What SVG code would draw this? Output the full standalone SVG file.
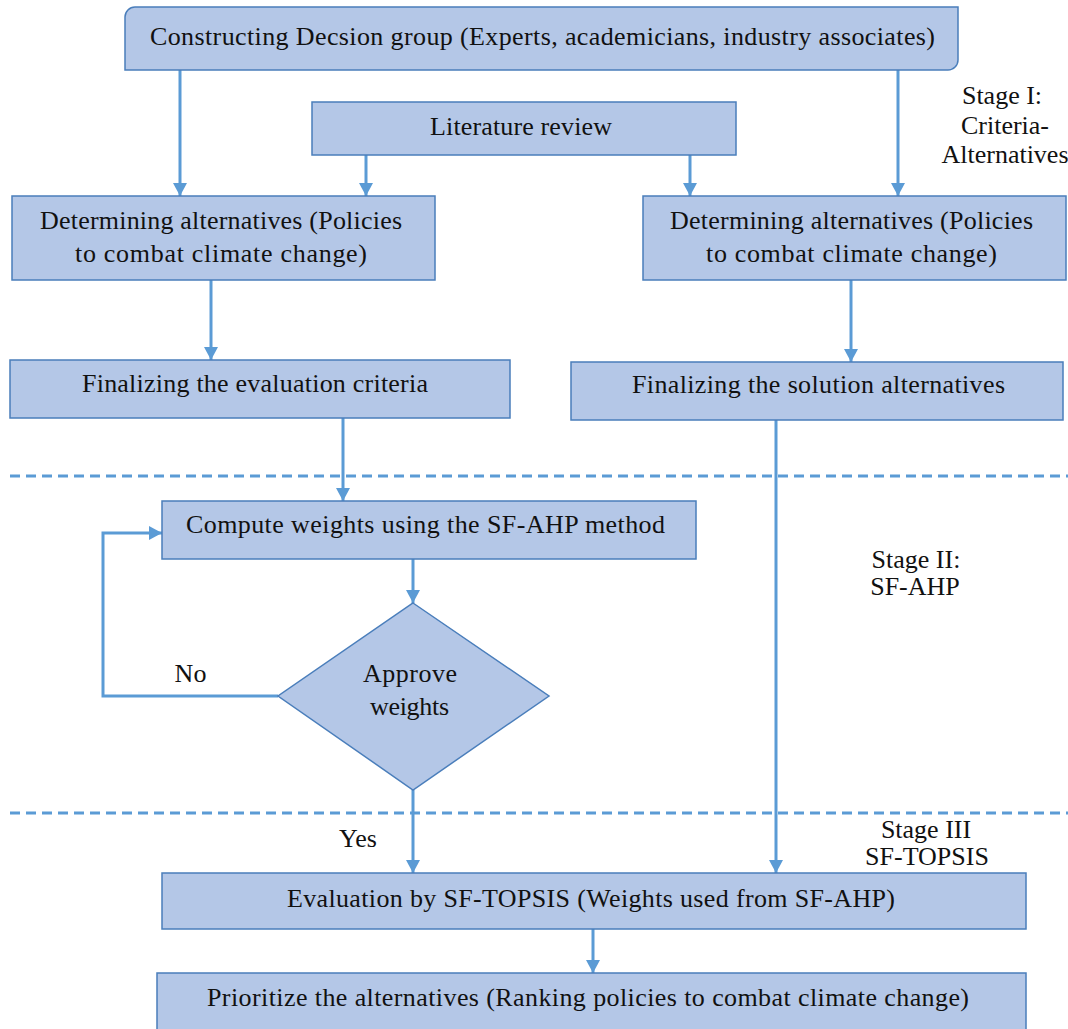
<svg xmlns="http://www.w3.org/2000/svg" width="1068" height="1029" viewBox="0 0 1068 1029">
<style>
.box{fill:#B4C7E7;stroke:#4A7EBB;stroke-width:1.5}
.t{font-family:'Liberation Serif','Times New Roman',Times,'DejaVu Serif',serif;font-size:26px;fill:#111111;text-anchor:middle}
.c{fill:none;stroke:#5B9BD5;stroke-width:3}
.d{fill:none;stroke:#5B9BD5;stroke-width:3;stroke-dasharray:10 6}
</style>
<defs>
<marker id="ah" markerUnits="userSpaceOnUse" markerWidth="14" markerHeight="14" refX="13" refY="7" orient="auto">
<path d="M0,0 L13,7 L0,14 z" fill="#5B9BD5"/>
</marker>
</defs>
<rect width="1068" height="1029" fill="#ffffff"/>

<g id="stage-dividers">
<line class="d" x1="10" y1="476" x2="1068" y2="476"/>
<line class="d" x1="10" y1="813" x2="1068" y2="813"/>
</g>

<g id="connectors">
<line class="c" x1="180" y1="70" x2="180" y2="196" marker-end="url(#ah)"/>
<line class="c" x1="898" y1="70" x2="898" y2="196" marker-end="url(#ah)"/>
<line class="c" x1="366" y1="155" x2="366" y2="196" marker-end="url(#ah)"/>
<line class="c" x1="690" y1="155" x2="690" y2="196" marker-end="url(#ah)"/>
<line class="c" x1="211" y1="280" x2="211" y2="360" marker-end="url(#ah)"/>
<line class="c" x1="851" y1="280" x2="851" y2="362" marker-end="url(#ah)"/>
<line class="c" x1="343" y1="418" x2="343" y2="501" marker-end="url(#ah)"/>
<line class="c" x1="413" y1="559" x2="413" y2="603" marker-end="url(#ah)"/>
<polyline class="c" points="278,696 103,696 103,533 162,533" marker-end="url(#ah)"/>
<line class="c" x1="413" y1="790" x2="413" y2="873" marker-end="url(#ah)"/>
<line class="c" x1="776" y1="420" x2="776" y2="873" marker-end="url(#ah)"/>
<line class="c" x1="593" y1="929" x2="593" y2="973" marker-end="url(#ah)"/>
</g>

<g id="decision-group">
<path class="box" d="M135,7 H958 V60 A10,10 0 0 1 948,70 H125 V17 A10,10 0 0 1 135,7 Z"/>
<text class="t" x="542.5" y="45" textLength="785" lengthAdjust="spacing">Constructing Decsion group (Experts, academicians, industry associates)</text>
</g>

<g id="literature-review">
<rect class="box" x="312" y="102" width="424" height="53"/>
<text class="t" x="521" y="135" textLength="182" lengthAdjust="spacing">Literature review</text>
</g>

<g id="determining-left">
<rect class="box" x="12" y="196" width="423" height="84"/>
<text class="t" x="221" y="229" textLength="362" lengthAdjust="spacing">Determining alternatives (Policies</text>
<text class="t" x="221" y="262" textLength="292" lengthAdjust="spacing">to combat climate change)</text>
</g>

<g id="determining-right">
<rect class="box" x="643" y="196" width="423" height="84"/>
<text class="t" x="851.5" y="229" textLength="363" lengthAdjust="spacing">Determining alternatives (Policies</text>
<text class="t" x="851.5" y="262" textLength="291" lengthAdjust="spacing">to combat climate change)</text>
</g>

<g id="finalizing-criteria">
<rect class="box" x="10" y="360" width="500" height="58"/>
<text class="t" x="255" y="392" textLength="346" lengthAdjust="spacing">Finalizing the evaluation criteria</text>
</g>

<g id="finalizing-alternatives">
<rect class="box" x="571" y="362" width="492" height="58"/>
<text class="t" x="818.5" y="393" textLength="373" lengthAdjust="spacing">Finalizing the solution alternatives</text>
</g>

<g id="compute-weights">
<rect class="box" x="162" y="501" width="534" height="58"/>
<text class="t" x="425.5" y="533" textLength="479" lengthAdjust="spacing">Compute weights using the SF-AHP method</text>
</g>

<g id="approve-weights">
<polygon class="box" points="413,603 549,696 413,790 278,696"/>
<text class="t" x="410" y="682" textLength="94" lengthAdjust="spacing">Approve</text>
<text class="t" x="409.5" y="715" textLength="79" lengthAdjust="spacing">weights</text>
</g>

<g id="labels">
<text class="t" x="190.5" y="682">No</text>
<text class="t" x="358" y="847">Yes</text>
<text class="t" x="1002" y="104">Stage I:</text>
<text class="t" x="1005" y="134">Criteria-</text>
<text class="t" x="1005" y="163">Alternatives</text>
<text class="t" x="916" y="568">Stage II:</text>
<text class="t" x="915" y="595">SF-AHP</text>
<text class="t" x="926" y="838">Stage III</text>
<text class="t" x="927" y="865">SF-TOPSIS</text>
</g>

<g id="evaluation">
<rect class="box" x="162" y="873" width="864" height="56"/>
<text class="t" x="591" y="907" textLength="608" lengthAdjust="spacing">Evaluation by SF-TOPSIS (Weights used from SF-AHP)</text>
</g>

<g id="prioritize">
<rect class="box" x="157" y="973" width="869" height="60"/>
<text class="t" x="588" y="1006" textLength="762" lengthAdjust="spacing">Prioritize  the alternatives (Ranking policies to combat climate change)</text>
</g>
</svg>
